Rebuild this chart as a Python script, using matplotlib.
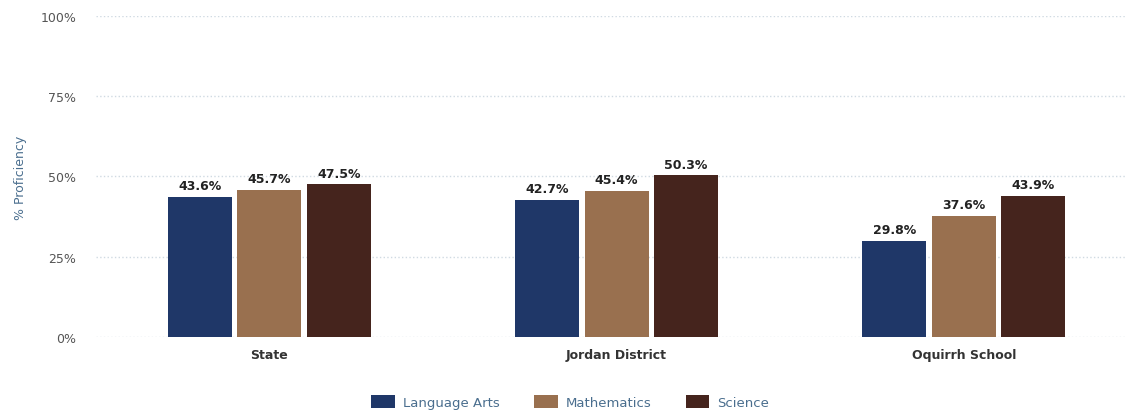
import numpy as np
import matplotlib
matplotlib.use('Agg')
import matplotlib.pyplot as plt

# data
groups = ['State', 'Jordan District', 'Oquirrh School']
subjects = ['Language Arts', 'Mathematics', 'Science']
language_arts = [43.6, 42.7, 29.8]
mathematics = [45.7, 45.4, 37.6]
science = [47.5, 50.3, 43.9]
yticks = [0, 25, 50, 75, 100]

colors = ['#1f3768', '#99704f', '#45241d']
series = [language_arts, mathematics, science]

plt.rcParams['font.family'] = ['DejaVu Sans']

fig = plt.figure(figsize=(11.27, 4.14), dpi=100)
ax = fig.add_axes([0.085, 0.184, 0.915, 0.775])

x = np.arange(len(groups))
pitch = 0.2
width = 0.184
for i, (vals, col, name) in enumerate(zip(series, colors, subjects)):
    pos = x + (i - 1) * pitch
    ax.bar(pos, vals, width=width, color=col, label=name, zorder=3)
    for px, v in zip(pos, vals):
        ax.text(px, v + 1.5, f'{v:.1f}%', ha='center', va='bottom',
                fontsize=9, fontweight='bold', color='#222222', zorder=4)

ax.set_xlim(-0.5, 2.47)
ax.set_ylim(0, 100)
ax.set_yticks(yticks)
ax.set_yticklabels([f'{t}%' for t in yticks], fontsize=9, color='#555555')
ax.set_xticks(x)
ax.set_xticklabels(groups, fontsize=9, fontweight='bold', color='#333333')
ax.tick_params(axis='x', length=0, pad=8)
ax.tick_params(axis='y', length=0, pad=14)
ax.set_ylabel('% Proficiency', fontsize=9, color='#4a6e8e', labelpad=10)

ax.grid(axis='y', color='#d0dae2', linestyle=':', linewidth=1, zorder=0)
for s in ax.spines.values():
    s.set_visible(False)

leg = ax.legend(loc='upper center', bbox_to_anchor=(0.46, -0.145), ncol=3,
                frameon=False, fontsize=9.5, handlelength=1.8, handleheight=1.1,
                columnspacing=2.6, handletextpad=0.6)
for t in leg.get_texts():
    t.set_color('#4a6e8e')

fig.savefig('out.png', dpi=100)
